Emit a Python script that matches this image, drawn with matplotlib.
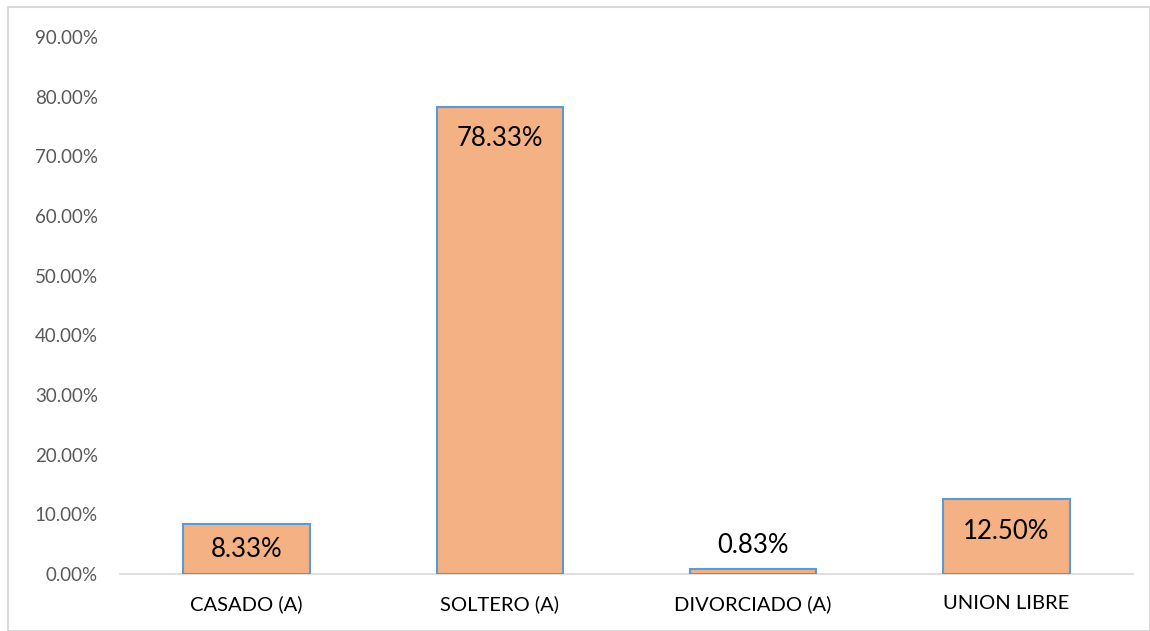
import matplotlib
matplotlib.use("Agg")
import matplotlib.pyplot as plt
from matplotlib.patches import Rectangle
from matplotlib.ticker import FuncFormatter, MultipleLocator

categories = ["CASADO (A)", "SOLTERO (A)", "DIVORCIADO (A)", "UNION LIBRE"]
values = [8.33, 78.33, 0.83, 12.50]
value_labels = ["8.33%", "78.33%", "0.83%", "12.50%"]

plt.rcParams['font.family'] = ['Lato', 'DejaVu Sans']

fig = plt.figure(figsize=(11.5, 6.31), dpi=100)
ax = fig.add_axes([120/1150, 1 - 574/631, (1133 - 120)/1150, (574 - 37)/631])

x = list(range(len(categories)))
bars = ax.bar(x, values, width=0.5, color="#F4B183", edgecolor="#5B9BD5", linewidth=1.5, zorder=3)

ax.set_xlim(-0.5, len(categories) - 0.5)
ax.set_ylim(0, 90)
ax.yaxis.set_major_locator(MultipleLocator(10))
ax.yaxis.set_major_formatter(FuncFormatter(lambda v, p: f"{v:.2f}%"))
ax.set_xticks(x)
ax.set_xticklabels(categories, fontsize=14.5, color="#000000")
ax.tick_params(axis='y', labelsize=13.5, labelcolor="#595959", length=0, pad=16)
ax.tick_params(axis='x', length=0, pad=15)

for s in ["top", "right", "left"]:
    ax.spines[s].set_visible(False)
ax.spines["bottom"].set_color("#D9D9D9")
ax.spines["bottom"].set_linewidth(1.2)

px_per_unit = (574 - 37) / 90.0
for xi, v, lab in zip(x, values, value_labels):
    h_px = v * px_per_unit
    if h_px > 40:
        off_px = min(32, h_px / 2)
        ax.annotate(lab, (xi, v), xytext=(0, -off_px * 72 / 100), textcoords="offset points",
                    ha="center", va="center", fontsize=18.5, color="#000000", zorder=4)
    else:
        ax.annotate(lab, (xi, v), xytext=(0, 24 * 72 / 100), textcoords="offset points",
                    ha="center", va="center", fontsize=18.5, color="#000000", zorder=4)

border = Rectangle((8/1150, 0), 1 - 8/1150 - 0.5/1150, 1 - 7/631, transform=fig.transFigure,
                   fill=False, edgecolor="#D9D9D9", linewidth=1.5)
fig.patches.append(border)

fig.savefig("out.png", dpi=100)
